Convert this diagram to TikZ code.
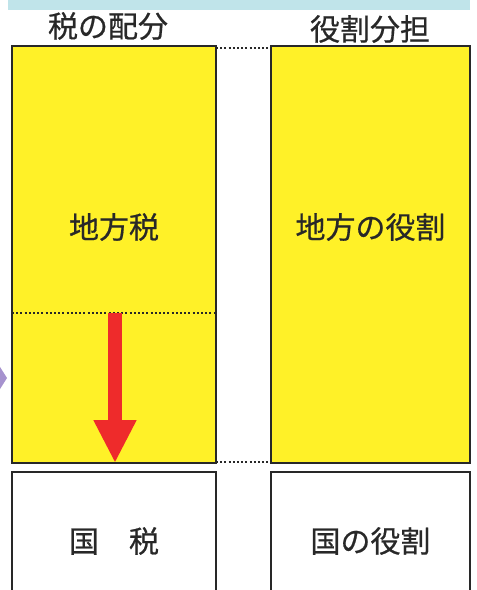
\documentclass[tikz,border=0pt]{standalone}
\usepackage{fontspec}
\setmainfont{Noto Sans CJK JP}[FakeBold=0.6]
\usetikzlibrary{arrows.meta,positioning,calc}

\definecolor{boxyellow}{RGB}{255,241,40}
\definecolor{arrowred}{RGB}{238,43,43}
\definecolor{bannerblue}{RGB}{192,228,234}
\definecolor{pointpurple}{RGB}{166,146,206}
\definecolor{edgegray}{RGB}{40,40,40}

\begin{document}
\begin{tikzpicture}[x=1pt, y=-1pt, node distance=9pt and 55pt,
            every node/.style={inner sep=0pt, text=edgegray, font=\fontsize{30}{36}\selectfont},
            rolebox/.style={draw=edgegray, line width=2.8pt, outer sep=0pt, rectangle},
            tallbox/.style={rolebox, fill=boxyellow, minimum height=417pt},
            lowbox/.style={rolebox, fill=white, minimum height=138pt},
            dotline/.style={draw=edgegray, line width=2.2pt, dash pattern=on 2pt off 2.2pt}]
        \clip (0,0) rectangle (477,590);
        \useasboundingbox (0,0) rectangle (477,590);
        % banner and side pointer
        \fill[bannerblue] (8,-5) rectangle (470,10);
        \fill[pointpurple] (-12,348) -- (7,378) -- (-12,408) -- cycle;
        % columns
        \node[tallbox, minimum width=204pt] (zeiL) at (114,254.5) {};
        \node[tallbox, minimum width=199pt, right=55pt of zeiL] (yakuR) {};
        \node[lowbox, minimum width=204pt, below=9pt of zeiL] (kokuL) {国　税};
        \node[lowbox, minimum width=199pt, below=9pt of yakuR] (kokuR) {国の役割};
        % titles
        \node (titleL) at (108,26) {税の配分};
        \node (titleR) at (370,29) {役割分担};
        \node (chihozei) at (zeiL |- 0,227) {地方税};
        \node (chihoyaku) at (yakuR |- 0,227) {地方の役割};
        % dotted links
        \draw[dotline] ($(zeiL.north east)+(0,2)$) -- ($(yakuR.north west)+(0,2)$);
        \draw[dotline] ($(zeiL.south east)+(0,-1)$) -- ($(yakuR.south west)+(0,-1)$);
        \coordinate (divL) at (zeiL.west |- 0,313);
        \coordinate (divR) at (zeiL.east |- 0,313);
        \draw[dotline] (divL) -- (divR);
        % shift arrow
        \coordinate (shiftTop) at (115,313);
        \draw[arrowred, line width=14pt, -{Triangle[length=43pt, width=40pt]}]
              (shiftTop) -- (shiftTop |- zeiL.south);
        \end{tikzpicture}
\end{document}
